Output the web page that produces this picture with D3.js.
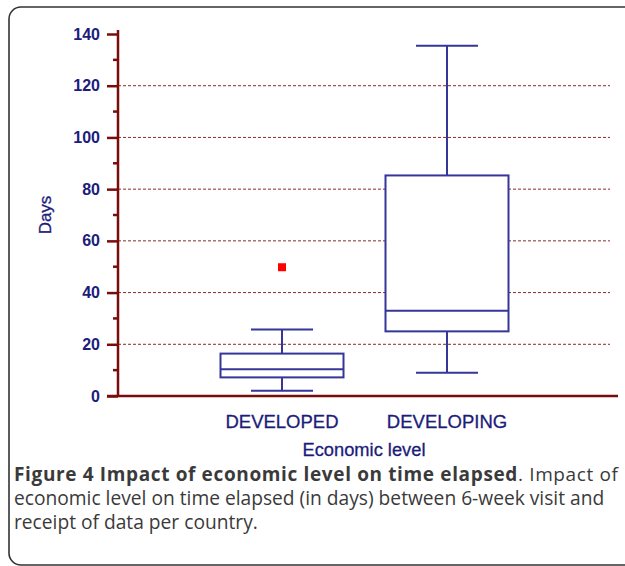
<!DOCTYPE html>
<html>
<head>
<meta charset="utf-8">
<script src="https://cdn.jsdelivr.net/npm/d3@7"></script>
<style>
  body { margin: 0; background: #fff; }
  svg { display: block; }
</style>
</head>
<body>
<div id="chart"></div>
<script>
// groups and their box summaries (days)
var groups = ["DEVELOPED", "DEVELOPING"];
var whiskerLow = [2, 9];
var q1 = [7.2, 25];
var median = [10.3, 33];
var q3 = [16.4, 85.3];
var whiskerHigh = [25.7, 135.5];
var outlierGroup = ["DEVELOPED"];
var outlierValue = [49.8];
var majorTicks = [0, 20, 40, 60, 80, 100, 120, 140];
var minorTicks = [10, 30, 50, 70, 90, 110, 130];

var width = 625, height = 566;
var navy = "#1c1c7a", boxCol = "#35359a", axisCol = "#7a0c0c";

var svg = d3.select("#chart").append("svg")
	.attr("width", width)
	.attr("height", height);

// outer frame
svg.append("rect")
	.attr("x", 9).attr("y", 7)
	.attr("width", 640).attr("height", 558)
	.attr("rx", 12).attr("ry", 12)
	.attr("fill", "none")
	.attr("stroke", "#333")
	.attr("stroke-width", 1.6);

var y = d3.scaleLinear().domain([0, 140]).range([396, 34]);
var x = d3.scalePoint().domain(groups).range([282, 447]);

// gridlines
svg.append("g").selectAll("line")
	.data(majorTicks.filter(function (d) { return d > 0 && d < 140 }))
	.enter().append("line")
	.attr("x1", 118).attr("x2", 610)
	.attr("y1", function (d) { return y(d) })
	.attr("y2", function (d) { return y(d) })
	.attr("stroke", "#8a2a2a")
	.attr("stroke-width", 1)
	.attr("stroke-dasharray", "3,2");

// y axis
var yAxis = svg.append("g")
	.attr("transform", "translate(118,0)")
	.call(d3.axisLeft(y).tickValues(majorTicks).tickSize(11).tickPadding(7).tickSizeOuter(0));
yAxis.select(".domain").remove();
yAxis.selectAll("line").attr("stroke", axisCol).attr("stroke-width", 2.5);
yAxis.selectAll("text")
	.attr("fill", navy)
	.style("font-family", "Liberation Sans, Arial, sans-serif")
	.style("font-size", "16px")
	.style("font-weight", "bold");

svg.append("g").selectAll("line")
	.data(minorTicks)
	.enter().append("line")
	.attr("x1", 113).attr("x2", 118)
	.attr("y1", function (d) { return y(d) })
	.attr("y2", function (d) { return y(d) })
	.attr("stroke", axisCol).attr("stroke-width", 2.5);

svg.append("line")
	.attr("x1", 118).attr("x2", 118)
	.attr("y1", 30).attr("y2", y(0))
	.attr("stroke", axisCol).attr("stroke-width", 2.5);
svg.append("line")
	.attr("x1", 107).attr("x2", 618)
	.attr("y1", y(0)).attr("y2", y(0))
	.attr("stroke", axisCol).attr("stroke-width", 2.5);

// boxes
var boxW = 123, capW = 62;
var boxes = svg.append("g").selectAll("g")
	.data(groups)
	.enter().append("g")
	.attr("stroke", boxCol)
	.attr("stroke-width", 2)
	.attr("fill", "none");

boxes.append("line")
	.attr("x1", function (d) { return x(d) }).attr("x2", function (d) { return x(d) })
	.attr("y1", function (d, i) { return y(whiskerHigh[i]) })
	.attr("y2", function (d, i) { return y(whiskerLow[i]) });
boxes.append("rect")
	.attr("x", function (d) { return x(d) - boxW / 2 })
	.attr("width", boxW)
	.attr("y", function (d, i) { return y(q3[i]) })
	.attr("height", function (d, i) { return y(q1[i]) - y(q3[i]) })
	.attr("fill", "#fff");
boxes.append("line")
	.attr("x1", function (d) { return x(d) - boxW / 2 }).attr("x2", function (d) { return x(d) + boxW / 2 })
	.attr("y1", function (d, i) { return y(median[i]) })
	.attr("y2", function (d, i) { return y(median[i]) });
[whiskerHigh, whiskerLow].forEach(function (arr) {
	boxes.append("line")
		.attr("x1", function (d) { return x(d) - capW / 2 }).attr("x2", function (d) { return x(d) + capW / 2 })
		.attr("y1", function (d, i) { return y(arr[i]) })
		.attr("y2", function (d, i) { return y(arr[i]) });
});

// outliers
svg.append("g").selectAll("rect")
	.data(outlierValue)
	.enter().append("rect")
	.attr("x", function (d, i) { return x(outlierGroup[i]) - 4 })
	.attr("y", function (d) { return y(d) - 4 })
	.attr("width", 8).attr("height", 8)
	.attr("fill", "#ff0000");

// category labels
var labFont = "Liberation Sans, Arial, sans-serif";
svg.append("g").selectAll("text")
	.data(groups)
	.enter().append("text")
	.attr("x", function (d) { return x(d) })
	.attr("y", 428)
	.attr("text-anchor", "middle")
	.attr("fill", navy)
	.attr("stroke", navy).attr("stroke-width", 0.3)
	.style("font-family", labFont)
	.style("font-size", "18.5px")
	.text(function (d) { return d });

svg.append("text")
	.attr("x", 364).attr("y", 456)
	.attr("text-anchor", "middle")
	.attr("fill", navy)
	.attr("stroke", navy).attr("stroke-width", 0.3)
	.style("font-family", labFont)
	.style("font-size", "18.3px")
	.text("Economic level");

svg.append("text")
	.attr("transform", "translate(51,215) rotate(-90)")
	.attr("text-anchor", "middle")
	.attr("fill", navy)
	.attr("stroke", navy).attr("stroke-width", 0.3)
	.style("font-family", labFont)
	.style("font-size", "17px")
	.text("Days");

// caption
var capFont = "'Open Sans', sans-serif";
var cap1 = svg.append("text")
	.attr("x", 14).attr("y", 481)
	.attr("textLength", 604)
	.attr("fill", "#3a3a3a")
	.style("font-family", capFont)
	.style("font-size", "19px");
cap1.append("tspan").style("font-weight", "bold").text("Figure 4 Impact of economic level on time elapsed");
cap1.append("tspan").text(". Impact of");

svg.append("text")
	.attr("x", 14).attr("y", 505)
	.attr("fill", "#3a3a3a")
	.style("font-family", capFont)
	.style("font-size", "19.2px")
	.text("economic level on time elapsed (in days) between 6-week visit and");

svg.append("text")
	.attr("x", 14).attr("y", 529)
	.attr("fill", "#3a3a3a")
	.style("font-family", capFont)
	.style("font-size", "19.2px")
	.text("receipt of data per country.");
</script>
</body>
</html>
